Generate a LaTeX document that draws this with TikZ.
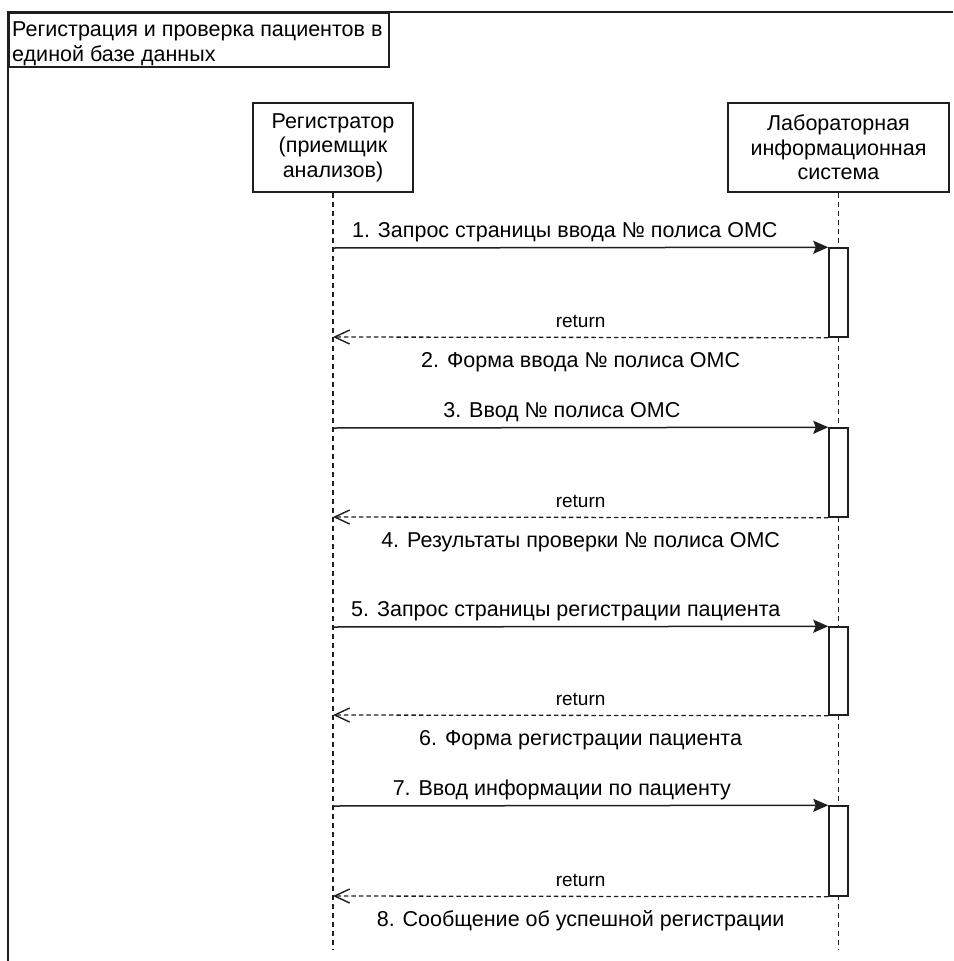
\documentclass[tikz,border=0pt]{standalone}
\usepackage{fontspec}
\setmainfont{Liberation Sans}
\usetikzlibrary{arrows.meta}

\newcommand\diafont{\fontsize{21.5}{24.5}\selectfont}
\newcommand\retfont{\fontsize{19}{24}\selectfont}

\tikzset{
  ink/.style={draw=black!88, line width=1.5pt},
  party/.style={ink, fill=white, minimum height=89pt, align=center,
    font=\diafont, inner sep=0pt},
  actbar/.style={ink, fill=white, minimum width=19pt, inner sep=0pt},
  lifeline/.style={draw=black!88, line width=1.5pt, dash pattern=on 5pt off 4pt},
  call/.style={ink, -{Stealth[length=15pt, width=13pt, inset=2.5pt]}},
  reply/.style={draw=black!88, line width=1.3pt, dash pattern=on 4.5pt off 3pt,
    -{Straight Barb[length=15pt, width=14pt, line width=1.4pt]}},
  msgabove/.style={font=\diafont, anchor=base, yshift=10pt, inner sep=0pt},
  msgbelow/.style={font=\diafont, anchor=base, yshift=-30pt, inner sep=0pt},
  retlabel/.style={font=\retfont, anchor=base, yshift=10pt, inner sep=0pt},
}

\begin{document}
\begin{tikzpicture}[x=1pt, y=-1pt]
\useasboundingbox (0,0) rectangle (953,961);

% enclosing frame, its right and lower sides run off the page
\draw[ink] (8,961) -- (8,12) -- (953,12);

% frame caption
\node[ink, anchor=north west, minimum width=380pt, minimum height=54pt, inner sep=0pt]
  (caption) at (8,12) {};
\node[font=\diafont, align=left, anchor=north west, inner sep=0pt]
  (captiontext) at (12,22)
  {Регистрация и проверка пациентов в\\единой базе данных};

% participants
\node[party, minimum width=160pt] (reg) at (333,147.5)
  {Регистратор\\(приемщик\\анализов)};
\node[party, minimum width=221pt] (lis) at (838.5,147.5)
  {Лабораторная\\информационная\\система};

% lifelines
\coordinate (regEnd) at (333,950);
\coordinate (lisEnd) at (838.5,950);
\draw[lifeline] (reg.south) -- (regEnd);
\draw[lifeline] (lis.south) -- (lisEnd);

% activation bars on the laboratory system lifeline
\node[actbar, minimum height=89pt] (bar1) at (838.5,292.5) {};
\node[actbar, minimum height=89pt] (bar2) at (838.5,472.5) {};
\node[actbar, minimum height=88pt] (bar3) at (838.5,671) {};
\node[actbar, minimum height=90pt] (bar4) at (838.5,851) {};

% message points on the registrar lifeline
\coordinate (s1) at (333,248);
\coordinate (t1) at (333,337);
\coordinate (s2) at (333,428);
\coordinate (t2) at (333,517);
\coordinate (s3) at (333,627);
\coordinate (t3) at (333,715);
\coordinate (s4) at (333,806);
\coordinate (t4) at (333,896);

% calls and replies
\draw[call] (s1) -- (bar1.north west)
  node[msgabove, pos=0.468] (l1) {1. Запрос страницы ввода № полиса ОМС};
\draw[reply] (bar1.south west) -- (t1)
  node[retlabel, pos=0.5] (r1) {return}
  node[msgbelow, pos=0.5] (l2) {2. Форма ввода № полиса ОМС};

\draw[call] (s2) -- (bar2.north west)
  node[msgabove, pos=0.462] (l3) {3. Ввод № полиса ОМС};
\draw[reply] (bar2.south west) -- (t2)
  node[retlabel, pos=0.5] (r2) {return}
  node[msgbelow, pos=0.5] (l4) {4. Результаты проверки № полиса ОМС};

\draw[call] (s3) -- (bar3.north west)
  node[msgabove, pos=0.47] (l5) {5. Запрос страницы регистрации пациента};
\draw[reply] (bar3.south west) -- (t3)
  node[retlabel, pos=0.5] (r3) {return}
  node[msgbelow, pos=0.5] (l6) {6. Форма регистрации пациента};

\draw[call] (s4) -- (bar4.north west)
  node[msgabove, pos=0.462] (l7) {7. Ввод информации по пациенту};
\draw[reply] (bar4.south west) -- (t4)
  node[retlabel, pos=0.5] (r4) {return}
  node[msgbelow, pos=0.5] (l8) {8. Сообщение об успешной регистрации};
\end{tikzpicture}
\end{document}
